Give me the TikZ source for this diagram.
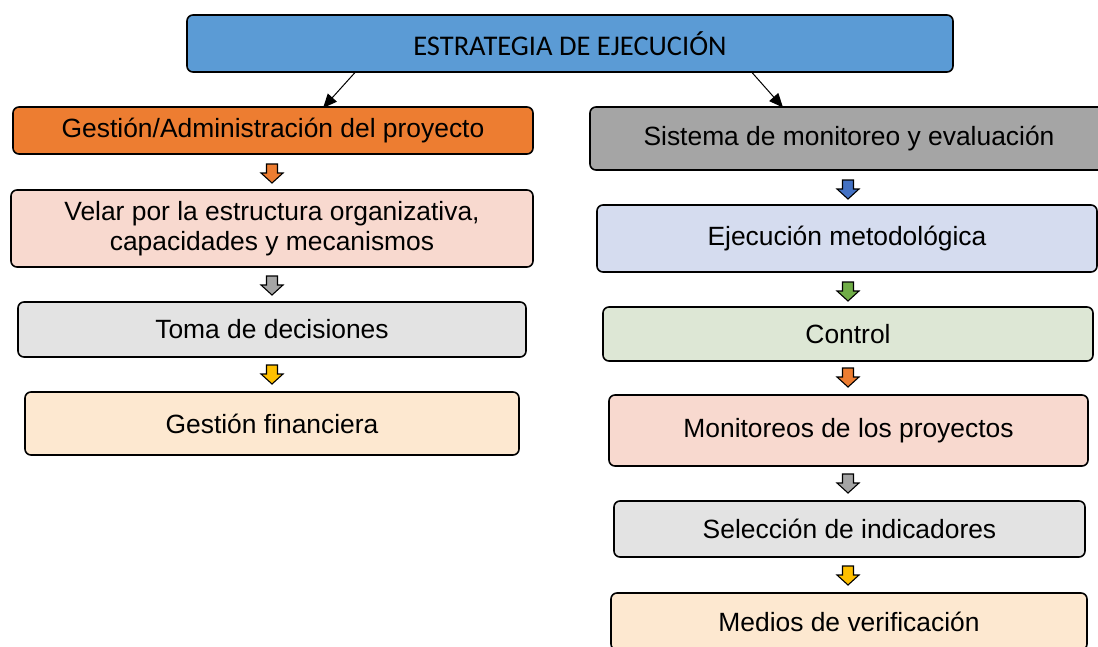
\documentclass[tikz,border=0pt]{standalone}
\usepackage{fontspec}
\setmainfont{Liberation Sans}
\newfontfamily\carlitofont{Carlito}
\usetikzlibrary{arrows.meta}
\definecolor{topblue}{HTML}{5B9BD5}
\definecolor{orangeA}{HTML}{ED7D31}
\definecolor{grayA}{HTML}{A5A5A5}
\definecolor{pinkL}{HTML}{F8D9CF}
\definecolor{grayL}{HTML}{E3E3E3}
\definecolor{peachL}{HTML}{FDE8D0}
\definecolor{blueL}{HTML}{D5DCEF}
\definecolor{greenL}{HTML}{DDE7D5}
\definecolor{yellowA}{HTML}{FFC000}
\definecolor{blueA}{HTML}{4472C4}
\definecolor{greenA}{HTML}{70AD47}
\tikzset{
  box/.style={draw=black, line width=1.6pt, rounded corners=6pt, inner sep=0pt,
    align=center, font=\fontsize{26.4}{30}\selectfont},
  conn/.style={draw=black, line width=1pt, -{Triangle[length=14pt,width=12pt]}},
  dnarr/.pic={\draw[fill=#1, line width=1.1pt, line join=miter]
    (-5.5,0) -- (5.5,0) -- (5.5,9) -- (11,9) -- (0,19) -- (-11,9) -- (-5.5,9) -- cycle;}
}
\begin{document}
\begin{tikzpicture}[x=1pt,y=-1pt]
\useasboundingbox (0,0) rectangle (1098,646);
\clip (0,0) rectangle (1098,646);
\fill[white] (0,0) rectangle (1098,646);
% top
\node[box, fill=topblue, minimum width=766, minimum height=57,
  font=\carlitofont\fontsize{28.5}{30}\selectfont] (top) at (570,43.5) {ESTRATEGIA DE EJECUCIÓN};
% left column
\node[box, fill=orangeA, minimum width=520, minimum height=47] (l1) at (273,130.5) {Gestión/Administración del proyecto};
\node[box, fill=pinkL, minimum width=522, minimum height=77] (l2) at (272,228.5) {Velar por la estructura organizativa,\\capacidades y mecanismos};
\node[box, fill=grayL, minimum width=508, minimum height=55] (l3) at (272,329.5) {Toma de decisiones};
\node[box, fill=peachL, minimum width=494, minimum height=63] (l4) at (272,423.5) {Gestión financiera};
% right column
\node[box, fill=grayA, minimum width=518, minimum height=63] (r1) at (849,138.5) {Sistema de monitoreo y evaluación};
\node[box, fill=blueL, minimum width=500, minimum height=67] (r2) at (847,238.5) {Ejecución metodológica};
\node[box, fill=greenL, minimum width=490, minimum height=54] (r3) at (848,334) {Control};
\node[box, fill=pinkL, minimum width=479, minimum height=71] (r4) at (848.5,430.5) {Monitoreos de los proyectos};
\node[box, fill=grayL, minimum width=471, minimum height=56] (r5) at (849.5,529) {Selección de indicadores};
\node[box, fill=peachL, minimum width=476, minimum height=57] (r6) at (849,621.5) {Medios de verificación};
% connectors
\coordinate (c1s) at (355,72.5);
\coordinate (c1e) at (323,108);
\coordinate (c2s) at (752,72.5);
\coordinate (c2e) at (783,107.5);
\draw[conn] (c1s) -- (c1e);
\draw[conn] (c2s) -- (c2e);
% small block arrows
\pic at (272,164) {dnarr=orangeA};
\pic at (272,276) {dnarr=grayA};
\pic at (272,365) {dnarr=yellowA};
\pic at (848,180) {dnarr=blueA};
\pic at (848,282) {dnarr=greenA};
\pic at (848,368) {dnarr=orangeA};
\pic at (848,474) {dnarr=grayA};
\pic at (848,566) {dnarr=yellowA};
\end{tikzpicture}
\end{document}
